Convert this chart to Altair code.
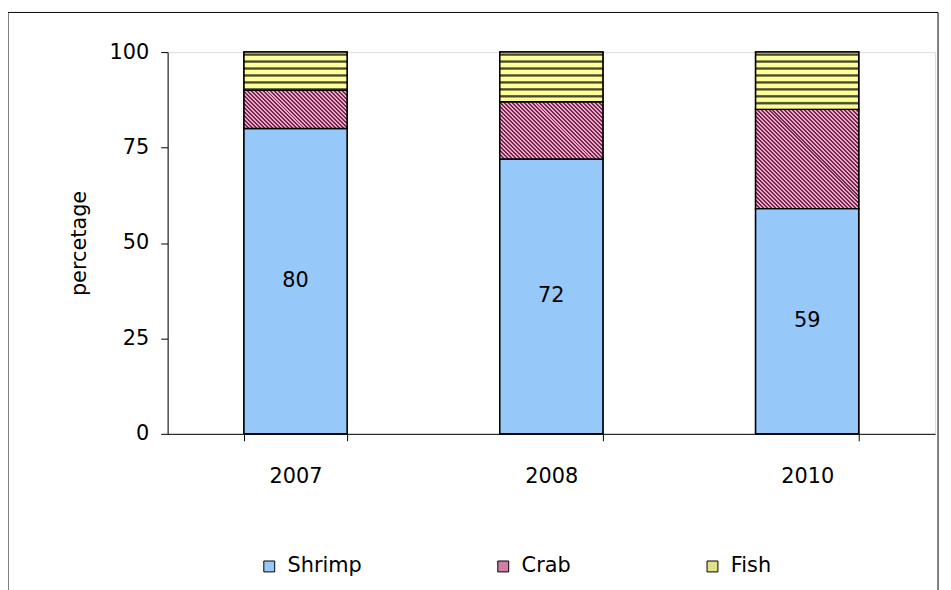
import altair as alt
import pandas as pd

# ---------------- data ----------------
years = ["2007", "2008", "2010"]
series = ["Shrimp", "Crab", "Fish"]
shrimp = [80, 72, 59]
crab = [10, 15, 26]
fish = [10, 13, 15]
y_ticks = [0, 25, 50, 75, 100]
y_title = "percetage"

rows = []
for i, yr in enumerate(years):
    for j, (s, vals) in enumerate(zip(series, [shrimp, crab, fish])):
        rows.append({"year": yr, "series": s, "ord": j, "value": vals[i]})
df = pd.DataFrame(rows)

# ---------------- layout / style ----------------
W, H = 774, 385
STEP = W / len(years)
BAR_W = 104
PAD = 1 - BAR_W / STEP
PX = H / 100.0
FONT = "DejaVu Sans"
FS = 21

BLUE = "#96C8FA"
PINK = "#FF99CC"
YELLOW = "#FFFF99"
legend_colors = [BLUE, "#D27CA7", "#E2E08A"]


def crab_gradient(h, w=BAR_W, period=4.0, frac=0.5, dark="#603449"):
    # diagonal "\" hatching, exact pixel period so that it does not beat with the pixel grid
    n = int(-(-(w + h) // period))
    L = period * n
    k = L / (w * w + h * h)
    stops = []
    for i in range(n):
        a, b, c = i / n, (i + frac) / n, (i + 1) / n
        stops += [(a, dark), (b, dark), (b, PINK), (c, PINK)]
    return alt.LinearGradient(
        gradient="linear",
        stops=[alt.GradientStop(offset=round(o, 6), color=col) for o, col in stops],
        x1=0, y1=1, x2=round(k * w, 6), y2=round(1 - k * h, 6),
    )


def fish_gradient(h, period=7.0, dark="#4a4a2c"):
    n = int(-(-h // period))
    L = period * n
    stops = []
    for i in range(n):
        p = lambda f: round((i + f) / n, 6)
        stops += [(p(0.0), YELLOW), (p(0.1), YELLOW), (p(0.28), dark),
                  (p(0.45), dark), (p(0.63), YELLOW), (p(1.0), YELLOW)]
    return alt.LinearGradient(
        gradient="linear",
        stops=[alt.GradientStop(offset=o, color=col) for o, col in stops],
        x1=0, y1=0, x2=0, y2=round(L / h, 6),
    )


x_enc = alt.X(
    "year:N", sort=years,
    scale=alt.Scale(domain=years, paddingInner=PAD, paddingOuter=PAD / 2),
    axis=alt.Axis(title=None, labelAngle=0, grid=False, domainColor="black",
                  tickColor="black", tickSize=7, tickBand="extent",
                  labelPadding=25, labelFontSize=FS, labelFont=FONT,
                  labelColor="black", domainWidth=1, tickWidth=1),
)
y_scale = alt.Scale(domain=[0, 100], nice=False)
y_axis = alt.Axis(values=y_ticks, title=y_title, grid=False, domainColor="black",
                  tickColor="black", tickSize=7, labelPadding=12,
                  labelFontSize=FS, labelFont=FONT, labelColor="black",
                  titleFontSize=FS, titleFont=FONT, titleFontWeight="normal",
                  titleColor="black", titleX=-89, titleY=H / 2, titleAngle=270,
                  titleAlign="center", titleBaseline="middle",
                  domainWidth=1, tickWidth=1)

base = alt.Chart(df).transform_stack(
    stack="value", groupby=["year"], as_=["y0", "y1"],
    sort=[alt.SortField("ord", order="ascending")],
).transform_calculate(mid="(datum.y0 + datum.y1) / 2")

bars = base.mark_bar(stroke="black", strokeWidth=1.5).encode(
    x=x_enc,
    y=alt.Y("y0:Q", scale=y_scale, axis=y_axis),
    y2="y1:Q",
    color=alt.Color(
        "series:N", sort=series,
        scale=alt.Scale(domain=series, range=legend_colors),
        legend=alt.Legend(title=None, orient="none", legendX=92, legendY=508,
                          direction="horizontal", symbolType="square",
                          symbolSize=121, symbolStrokeColor="black",
                          symbolStrokeWidth=1, labelFontSize=FS, labelFont=FONT,
                          labelColor="black", columnPadding=132, labelOffset=8,
                          padding=0),
    ),
)

layers = [bars]
for i, yr in enumerate(years):
    layers.append(
        base.transform_filter((alt.datum.year == yr) & (alt.datum.series == "Shrimp"))
        .mark_bar(fill=BLUE, stroke="black", strokeWidth=1.5)
        .encode(x=x_enc, y=alt.Y("y0:Q", scale=y_scale, axis=y_axis), y2="y1:Q")
    )
    layers.append(
        base.transform_filter((alt.datum.year == yr) & (alt.datum.series == "Crab"))
        .mark_bar(fill=crab_gradient(crab[i] * PX), stroke="black", strokeWidth=1.5)
        .encode(x=x_enc, y=alt.Y("y0:Q", scale=y_scale, axis=y_axis), y2="y1:Q")
    )
    layers.append(
        base.transform_filter((alt.datum.year == yr) & (alt.datum.series == "Fish"))
        .mark_bar(fill=fish_gradient(fish[i] * PX), stroke="black", strokeWidth=1.5)
        .encode(x=x_enc, y=alt.Y("y0:Q", scale=y_scale, axis=y_axis), y2="y1:Q")
    )

labels = base.transform_filter(alt.datum.series == "Shrimp").mark_text(
    font=FONT, fontSize=FS, color="black"
).encode(
    x=x_enc,
    y=alt.Y("mid:Q", scale=y_scale, axis=y_axis),
    text="value:Q",
)
layers.append(labels)

frame = alt.Chart(pd.DataFrame({"k": [0]})).mark_rect(
    filled=False, stroke="black", strokeWidth=1
).encode(
    x=alt.value(-161), x2=alt.value(777), y=alt.value(-40), y2=alt.value(560)
)
layers.append(frame)

chart = alt.layer(*layers).properties(
    width=W, height=H,
    padding={"left": 161, "top": 42, "right": 8, "bottom": 155},
    autosize=alt.AutoSizeParams(type="none"),
).configure_view(stroke=None).configure(background="white")

chart.save("out.html", embed_options={"renderer": "svg", "actions": False})
